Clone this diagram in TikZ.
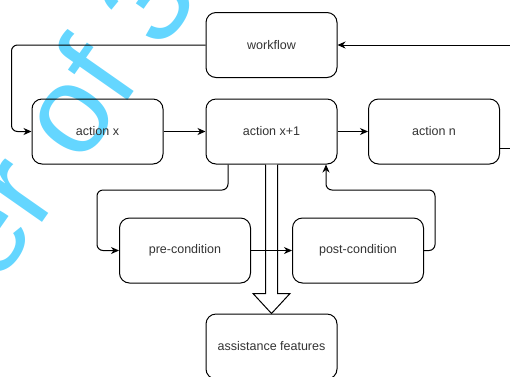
\documentclass[tikz,border=0pt]{standalone}
\usepackage{fontspec}
\setmainfont{Liberation Sans}
\usetikzlibrary{arrows.meta,calc}
\definecolor{wmcol}{RGB}{100,214,255}
\begin{document}
\begin{tikzpicture}[x=1pt,y=-1pt,
  box/.style={draw, rounded corners=10pt, line width=1pt, minimum width=131pt,
    minimum height=65pt, inner sep=0pt, font=\fontsize{12.5}{14}\selectfont, text=black!80},
  conn/.style={draw, line width=1pt, rounded corners=6pt,
    -{Stealth[length=8pt,width=7pt,inset=2.5pt]}},
  plain/.style={draw, line width=1pt}]
\useasboundingbox (0,0) rectangle (510,376);
\clip (0,0) rectangle (510,376);
% watermark
\node[anchor=base west, rotate=55, text=wmcol, inner sep=0pt,
  font=\fontsize{125}{125}\selectfont] (wm) at (-2.4,286.4) {er of 3};
% boxes
\node[box] (wf) at (271.5,45) {workflow};
\node[box] (ax) at (97.5,131.5) {action x};
\node[box] (ax1) at (271.5,131.5) {action x+1};
\node[box] (an) at (434,131.5) {action n};
\node[box] (pre) at (185,250.5) {pre-condition};
\node[box] (post) at (358,250.5) {post-condition};
\node[box] (af) at (271.5,346.5) {assistance features};
% hollow big arrow
\draw[line width=1pt, fill=white]
  ($(ax1.south)+(-6,0)$) -- ($(af.north)+(-6,-20)$) -- ($(af.north)+(-18.5,-20)$)
  -- (af.north) -- ($(af.north)+(18.5,-20)$) -- ($(af.north)+(6,-20)$)
  -- ($(ax1.south)+(6,0)$);
% connectors
\coordinate (rin) at (512,45);
\draw[conn] (rin) -- (wf.east);
\draw[conn] (wf.west) -| ([xshift=-20pt]ax.west) -- (ax.west);
\draw[conn] (ax) -- (ax1);
\draw[conn] (ax1) -- (an);
\coordinate (rout) at (512,148);
\draw[plain] (an.east |- rout) -- (rout);
\coordinate (p1) at (228,190);
\draw[conn] (ax1.south -| p1) -- (p1) -| ([xshift=-22pt]pre.west) -- (pre.west);
\draw[conn] (pre) -- (post);
\coordinate (p2) at (326,190);
\draw[conn] (post.east) -- ++(11,0) |- (p2) -- (ax1.south -| p2);
\end{tikzpicture}
\end{document}
